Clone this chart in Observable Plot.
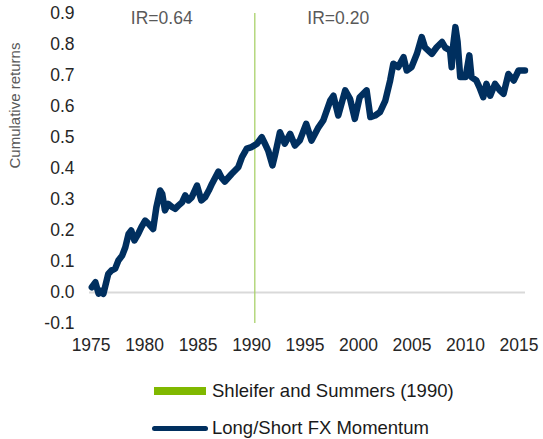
<!DOCTYPE html>
<html>
<head>
<meta charset="utf-8">
<script src="https://cdn.jsdelivr.net/npm/d3@7"></script>
<script src="https://cdn.jsdelivr.net/npm/@observablehq/plot@0.6"></script>
<style>
  html, body { margin: 0; padding: 0; background: #fff; }
  #wrap { width: 543px; font-family: "Liberation Sans", Arial, sans-serif; }
  #legend { position: relative; width: 543px; height: 77px; }
  .row { position: absolute; left: 152px; height: 24px; display: flex; align-items: center; font-size: 18.5px; color: #1a1a1a; white-space: nowrap; }
  .sw-bar { width: 52px; height: 8px; background: #80b800; margin-left: 2px; margin-right: 6px; }
  .sw-line { width: 56px; height: 5px; border-radius: 3px; background: #002f5f; margin-right: 4px; }
</style>
</head>
<body>
<div id="wrap">
  <div id="chart"></div>
  <div id="legend"></div>
</div>
<script>
// ---- data ----
const years = [
  1975.07, 1975.4, 1975.7, 1976.0, 1976.15, 1976.6, 1976.9, 1977.25, 1977.55, 1977.9,
  1978.2, 1978.5, 1978.75, 1979.05, 1979.4, 1979.7, 1980.05, 1980.35, 1980.8, 1981.1,
  1981.45, 1981.65, 1981.9, 1982.2, 1982.6, 1982.85, 1983.15, 1983.5, 1983.8, 1984.1,
  1984.4, 1984.9, 1985.3, 1985.65, 1986.0, 1986.3, 1986.9, 1987.2, 1987.5, 1988.15,
  1988.75, 1989.1, 1989.55, 1990.0, 1990.5, 1990.95, 1991.25, 1991.55, 1991.95, 1992.2,
  1992.65, 1993.1, 1993.6, 1994.05, 1994.5, 1995.1, 1995.6, 1996.25, 1996.7, 1997.35,
  1997.65, 1998.1, 1998.75, 1999.2, 1999.65, 2000.1, 2000.75, 2001.1, 2001.55, 2002.0,
  2002.5, 2002.95, 2003.25, 2003.7, 2004.2, 2004.5, 2004.95, 2005.45, 2005.9, 2006.2,
  2006.85, 2007.3, 2007.8, 2008.1, 2008.55, 2008.7, 2008.85, 2009.05, 2009.25, 2009.5,
  2010.0, 2010.35, 2010.55, 2011.0, 2011.3, 2011.65, 2011.95, 2012.3, 2012.75, 2013.2,
  2013.55, 2014.0, 2014.5, 2014.95, 2015.55
];
const values = [
  0.017, 0.033, -0.004, 0.006, -0.004, 0.060, 0.071, 0.077, 0.103, 0.119,
  0.146, 0.189, 0.200, 0.168, 0.189, 0.211, 0.232, 0.222, 0.205, 0.275,
  0.329, 0.318, 0.265, 0.286, 0.275, 0.270, 0.280, 0.291, 0.313, 0.297,
  0.307, 0.345, 0.297, 0.307, 0.329, 0.351, 0.390, 0.370, 0.358, 0.383,
  0.404, 0.437, 0.464, 0.469, 0.480, 0.501, 0.480, 0.458, 0.410, 0.445,
  0.517, 0.480, 0.512, 0.474, 0.490, 0.544, 0.490, 0.533, 0.555, 0.619,
  0.635, 0.571, 0.652, 0.625, 0.560, 0.630, 0.652, 0.566, 0.571, 0.582,
  0.619, 0.684, 0.738, 0.727, 0.759, 0.716, 0.727, 0.770, 0.824, 0.791,
  0.770, 0.791, 0.808, 0.790, 0.781, 0.727, 0.800, 0.856, 0.810, 0.695,
  0.695, 0.765, 0.695, 0.684, 0.662, 0.630, 0.673, 0.635, 0.673, 0.652,
  0.641, 0.705, 0.684, 0.716, 0.716
];
const eventYear = [1990.3];
const irTexts = ["IR=0.64", "IR=0.20"];
const irYears = [1981.6, 1998.1];
const xTicks = [1975, 1980, 1985, 1990, 1995, 2000, 2005, 2010, 2015];
const yTicks = [-0.1, 0.0, 0.1, 0.2, 0.3, 0.4, 0.5, 0.6, 0.7, 0.8, 0.9];
const yTitle = "Cumulative returns";
const legendLabels = ["Shleifer and Summers (1990)", "Long/Short FX Momentum"];

const series = years.map((y, i) => ({year: y, value: values[i]}));
const irLabels = irTexts.map((t, i) => ({text: t, year: irYears[i]}));

const chart = Plot.plot({
  width: 543,
  height: 362,
  marginLeft: 89,
  marginRight: 18,
  marginTop: 13,
  marginBottom: 39,
  style: {fontFamily: "'Liberation Sans', Arial, sans-serif", fontSize: "17.5px", color: "#262626", background: "#fff"},
  x: {domain: [1974.85, 2015.6], ticks: xTicks, tickFormat: d => String(d), tickSize: 0, tickPadding: 15, label: null},
  y: {domain: [-0.1, 0.9], ticks: yTicks, tickFormat: d => d.toFixed(1), tickSize: 0, tickPadding: 15, label: null},
  marks: [
    Plot.ruleY([0], {stroke: "#d9d9d9", strokeWidth: 2}),
    Plot.ruleX(eventYear, {stroke: "#a9d16b", strokeWidth: 1.3}),
    Plot.line(series, {x: "year", y: "value", stroke: "#002f5f", strokeWidth: 6.5, strokeLinejoin: "round", strokeLinecap: "round"}),
    Plot.text(irLabels, {x: "year", text: "text", frameAnchor: "top", dy: 5, lineAnchor: "middle", fill: "#595959", fontSize: 17.5}),
    Plot.text([yTitle], {text: d => d, frameAnchor: "left", dx: -74, rotate: -90, fill: "#595959", fontSize: 15})
  ]
});
document.getElementById("chart").appendChild(chart);

const legend = document.getElementById("legend");
const rowCenters = [29, 66];
legendLabels.forEach((lab, i) => {
  const row = document.createElement("div");
  row.className = "row";
  row.style.top = (rowCenters[i] - 12) + "px";
  const sw = document.createElement("div");
  sw.className = i === 0 ? "sw-bar" : "sw-line";
  const tx = document.createElement("span");
  tx.textContent = lab;
  row.appendChild(sw);
  row.appendChild(tx);
  legend.appendChild(row);
});
</script>
</body>
</html>
